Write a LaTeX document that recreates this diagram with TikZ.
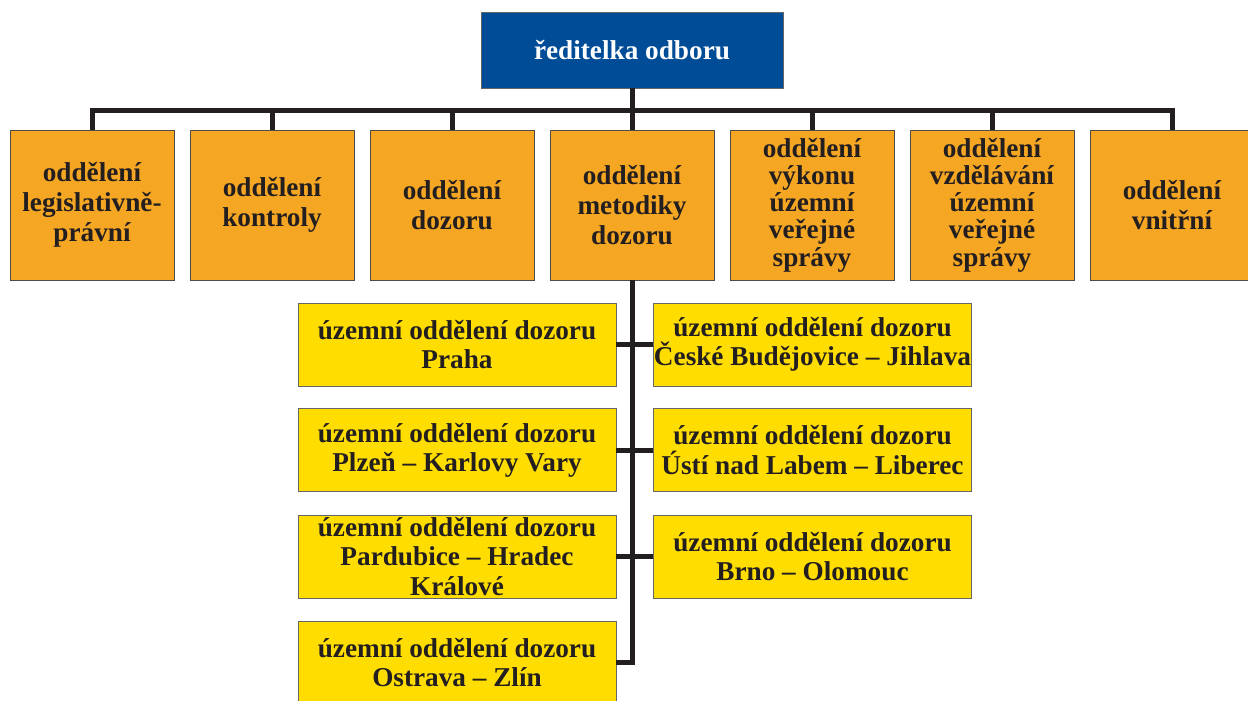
\documentclass[tikz,border=0pt]{standalone}
\usepackage{fontspec}
\setmainfont{Liberation Serif}
\usetikzlibrary{positioning}

\definecolor{headblue}{RGB}{0,76,151}
\definecolor{deptorange}{RGB}{245,166,35}
\definecolor{unityellow}{RGB}{255,221,0}
\definecolor{inkdark}{RGB}{35,31,32}

\tikzset{
  boss/.style={draw=black!60, line width=0.5pt, fill=headblue, text=white,
    minimum width=60.4mm, minimum height=15.2mm,
    font=\fontsize{15.5}{17}\selectfont\bfseries},
  dept/.style={draw=black!70, line width=0.5pt, fill=deptorange, text=inkdark,
    align=center, inner sep=0pt, minimum width=32.8mm, minimum height=30mm,
    font=\fontsize{15.5}{17}\selectfont\bfseries},
  unit/.style={draw=black!60, line width=0.5pt, fill=unityellow, text=inkdark,
    align=center, inner sep=0pt, minimum width=63.6mm, minimum height=16.6mm,
    font=\fontsize{15.5}{16.6}\selectfont\bfseries},
  bus/.style={draw=inkdark, line width=1mm}
}

\begin{document}
\begin{tikzpicture}[x=0.2mm, y=-0.2mm]
    \useasboundingbox (0,0) rectangle (1248,701);

    % Head of the department
    \node[boss] (head) at (632,50) {ředitelka odboru};

    % Departments
    \foreach \i/\txt in {0/{oddělení\\legislativně-\\právní},
                         1/{oddělení\\kontroly},
                         2/{oddělení\\dozoru},
                         3/{oddělení\\metodiky\\dozoru},
                         4/{oddělení\\[-1.5pt]výkonu\\[-1.5pt]územní\\[-1.5pt]veřejné\\[-1.5pt]správy},
                         5/{oddělení\\[-1.5pt]vzdělávání\\[-1.5pt]územní\\[-1.5pt]veřejné\\[-1.5pt]správy},
                         6/{oddělení\\vnitřní}} {
        \node[dept] (d\i) at ({92+180*\i},205) {\txt};
    }

    % Regional units
    \node[unit] (l1) at (457,344.5) {územní oddělení dozoru\\Praha};
    \node[unit] (l2) at (457,450) {územní oddělení dozoru\\Plzeň -- Karlovy Vary};
    \node[unit] (l3) at (457,556.5) {územní oddělení dozoru\\Pardubice -- Hradec\\Králové};
    \node[unit] (l4) at (457,662.5) {územní oddělení dozoru\\Ostrava -- Zlín};

    \node[unit] (r1) at (812.5,344.5) {územní oddělení dozoru\\České Budějovice -- Jihlava};
    \node[unit] (r2) at (812.5,450) {územní oddělení dozoru\\Ústí nad Labem -- Liberec};
    \node[unit] (r3) at (812.5,556.5) {územní oddělení dozoru\\Brno -- Olomouc};

    % Bus under the head
    \coordinate (bus) at (632,111);
    \draw[bus] (head.south) -- (bus);
    \draw[bus] (d0.north) |- (d6.north |- bus) -- (d6.north);
    \foreach \i in {1,...,5} {
        \draw[bus] (d\i.north) -- (d\i.north |- bus);
    }

    % Spine to the regional units
    \draw[bus] (l4.east) -| (d3.south);
    \foreach \r in {1,2,3} {
        \draw[bus] (l\r.east) -- (r\r.west);
    }
\end{tikzpicture}
\end{document}
